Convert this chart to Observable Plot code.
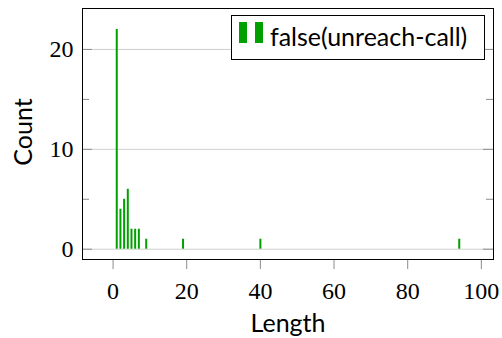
<!DOCTYPE html>
<html>
<head>
<meta charset="utf-8">
<script src="https://cdn.jsdelivr.net/npm/d3@7"></script>
<script src="https://cdn.jsdelivr.net/npm/@observablehq/plot@0.6"></script>
<style>
  html, body { margin: 0; padding: 0; background: #fff; }
  #wrap { position: relative; width: 502px; height: 338px; overflow: hidden; }
  .lbl { position: absolute; font-family: Lato, sans-serif; font-size: 25px; line-height: 1.2; white-space: nowrap; color: #000; }
  #legend { position: absolute; left: 231px; top: 15px; width: 254px; height: 45px; box-sizing: border-box; border: 1px solid #000; background: #fff; }
  .sw { position: absolute; width: 8px; height: 21px; background: #00a000; top: 6px; }
  #wrap svg text { font-family: "Liberation Serif", "DejaVu Serif", serif; font-variant-numeric: normal; }
</style>
</head>
<body>
<div id="wrap"></div>
<script>
const lengths = [1, 2, 3, 4, 5, 6, 7, 9, 19, 40, 94];
const counts = [22, 4, 5, 6, 2, 2, 2, 1, 1, 1, 1];
const xTicks = [0, 20, 40, 60, 80, 100];
const yTicks = [0, 10, 20];
const yMinorTicks = [5, 15];
const seriesName = "false(unreach-call)";
const xLabel = "Length";
const yLabel = "Count";

const data = lengths.map((l, i) => ({length: l, count: counts[i]}));

const W = 502, H = 338, mL = 82, mR = 9, mT = 8, mB = 79;
const innerW = W - mL - mR;
const green = "#00a000";
const tickGray = "#8c8c8c";
const serif = "Liberation Serif";

const chart = Plot.plot({
  width: W, height: H,
  marginLeft: mL, marginRight: mR, marginTop: mT, marginBottom: mB,
  style: {background: "#fff", fontSize: "24px", fontFamily: serif, color: "#000"},
  x: {domain: [-8.3, 103.3]},
  y: {domain: [-1.03, 24.1]},
  marks: [
    Plot.gridY(yTicks, {stroke: "#cfcfcf", strokeOpacity: 1}),
    Plot.ruleX(data, {x: "length", y1: 0, y2: "count", stroke: green, strokeWidth: 2}),
    Plot.tickY(yTicks, {y: d => d, stroke: tickGray, insetRight: innerW - 10}),
    Plot.tickY(yMinorTicks, {y: d => d, stroke: tickGray, insetRight: innerW - 7}),
    Plot.tickY(yTicks, {y: d => d, stroke: tickGray, insetLeft: innerW - 10}),
    Plot.tickY(yMinorTicks, {y: d => d, stroke: tickGray, insetLeft: innerW - 7}),
    Plot.axisY(yTicks, {tickSize: 0, tickPadding: 9, label: null, fontSize: 24, fontFamily: serif, fontVariant: "normal", fill: "#000"}),
    Plot.axisX(xTicks, {tickSize: 10, tickFormat: () => "", label: null, stroke: tickGray}),
    Plot.axisX(xTicks, {tickSize: 0, tickPadding: 22, label: null, fontSize: 24, fontFamily: serif, fontVariant: "normal", fill: "#000"}),
    Plot.frame({stroke: "#000", strokeWidth: 1})
  ]
});

const wrap = document.getElementById("wrap");
wrap.appendChild(chart);

const legend = document.createElement("div");
legend.id = "legend";
wrap.appendChild(legend);
const s1 = document.createElement("div"); s1.className = "sw"; s1.style.left = "7px"; legend.appendChild(s1);
const s2 = document.createElement("div"); s2.className = "sw"; s2.style.left = "23px"; legend.appendChild(s2);
const lt = document.createElement("div");
lt.className = "lbl"; lt.textContent = seriesName;
lt.style.left = "270px"; lt.style.top = "21px";
wrap.appendChild(lt);

const xl = document.createElement("div");
xl.className = "lbl"; xl.textContent = xLabel;
xl.style.left = "288px"; xl.style.top = "307px"; xl.style.transform = "translateX(-50%)";
wrap.appendChild(xl);

const yl = document.createElement("div");
yl.className = "lbl"; yl.textContent = yLabel;
yl.style.left = "22px"; yl.style.top = "132px"; yl.style.transform = "translate(-50%,-50%) rotate(-90deg)";
wrap.appendChild(yl);
</script>
</body>
</html>
